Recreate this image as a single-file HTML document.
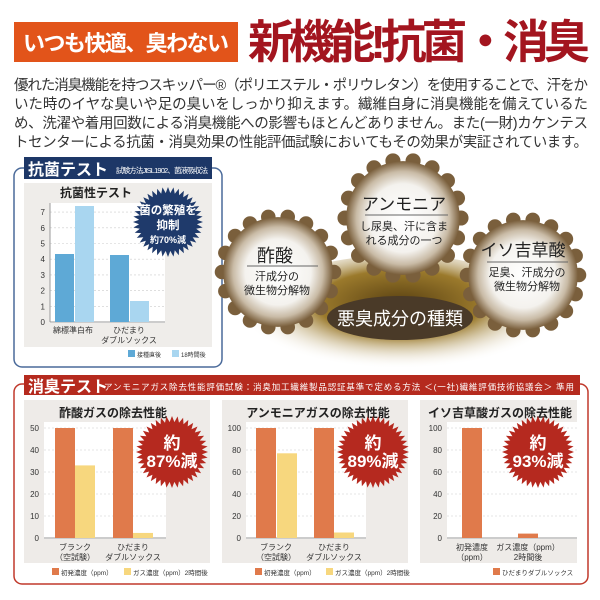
<!DOCTYPE html>
<html><head><meta charset="utf-8">
<style>
html,body{margin:0;padding:0;background:#fff;}
svg{display:block;font-family:"Liberation Sans","Noto Sans CJK JP",sans-serif;}
</style></head>
<body>
<svg id="s" width="600" height="600" viewBox="0 0 600 600" xmlns="http://www.w3.org/2000/svg">
<defs>
<radialGradient id="gw" cx="50%" cy="50%" r="50%">
<stop offset="0" stop-color="#fff"/><stop offset="0.6" stop-color="#f4f2ee"/><stop offset="0.82" stop-color="#c9bba6"/><stop offset="1" stop-color="#7a5f3c"/>
</radialGradient>
<radialGradient id="gb" cx="50%" cy="40%" r="55%">
<stop offset="0" stop-color="#5a4112"/><stop offset="0.5" stop-color="#9b7a2c"/><stop offset="1" stop-color="#fff" stop-opacity="0"/>
</radialGradient>
</defs>
<rect x="14" y="22" width="224" height="40" fill="#e2541a"/>
<text x="126" y="51" font-size="22" fill="#fff" text-anchor="middle" font-weight="bold" textLength="206">いつも快適、臭わない</text>
<text x="248" y="58" font-size="46" fill="#a3151f" font-weight="bold" textLength="342">新機能!抗菌・消臭</text>
<g font-size="14.5" fill="#333">
<text x="14" y="90" textLength="574">優れた消臭機能を持つスキッパー®（ポリエステル・ポリウレタン）を使用することで、汗をか</text>
<text x="14" y="109" textLength="574">いた時のイヤな臭いや足の臭いをしっかり抑えます。繊維自身に消臭機能を備えているた</text>
<text x="14" y="128" textLength="574">め、洗濯や着用回数による消臭機能への影響もほとんどありません。また(一財)カケンテス</text>
<text x="14" y="147" textLength="574">トセンターによる抗菌・消臭効果の性能評価試験においてもその効果が実証されています。</text>
</g>
<rect x="14" y="168" width="208" height="199" rx="8" fill="#fff" stroke="#4a6a9a" stroke-width="1.5"/>
<rect x="24" y="157" width="188" height="22" fill="#1d3767"/>
<text x="28" y="175" font-size="16" fill="#fff" font-weight="bold">抗菌テスト</text>
<text x="116" y="173" font-size="7.5" fill="#fff" textLength="92">試験方法JISL1902、菌液吸収法</text>
<rect x="24" y="183" width="188" height="164" fill="#efedea"/>
<text x="96" y="197" font-size="12" font-weight="bold" fill="#222" text-anchor="middle">抗菌性テスト</text>
<rect x="50" y="203" width="115" height="120" fill="#fff"/>
<g id="abgrid" stroke="#ccc" stroke-dasharray="2,2" stroke-width="0.6"></g>
<g font-size="8" fill="#333" text-anchor="end" id="abt"></g>
<line x1="50" y1="203" x2="50" y2="322" stroke="#999"/>
<line x1="50" y1="322" x2="165" y2="322" stroke="#999"/>
<rect x="55" y="254" width="19" height="68" fill="#5ea9d6"/>
<rect x="75" y="206" width="19" height="116" fill="#a9d6f0"/>
<rect x="110" y="255" width="19" height="67" fill="#5ea9d6"/>
<rect x="130" y="301" width="19" height="21" fill="#a9d6f0"/>
<g font-size="8" fill="#333" text-anchor="middle">
<text x="73" y="333">綿標準白布</text>
<text x="129" y="333">ひだまり</text>
<text x="129" y="343">ダブルソックス</text>
</g>
<rect x="128" y="350" width="7" height="7" fill="#5ea9d6"/>
<text x="137" y="357" font-size="6" fill="#333">接種直後</text>
<rect x="172" y="350" width="7" height="7" fill="#a9d6f0"/>
<text x="181" y="357" font-size="6" fill="#333">18時間後</text>
<polygon id="sb1" fill="#1f3a6b"/>
<g fill="#fff" text-anchor="middle" font-weight="bold">
<text x="168" y="214" font-size="11.5">菌の繁殖を</text>
<text x="168" y="229" font-size="11.5">抑制</text>
<text x="168" y="243" font-size="9">約70%減</text>
</g>
<ellipse cx="400" cy="315" rx="150" ry="60" fill="url(#gb)"/>
<g id="gears"></g>
<ellipse cx="400" cy="318" rx="73" ry="22" fill="#4a3a28"/>
<text x="400" y="325" font-size="18" fill="#fff" text-anchor="middle">悪臭成分の種類</text>
<g text-anchor="middle" fill="#222">
<text x="275" y="262" font-size="18">酢酸</text>
<line x1="247" y1="266" x2="318" y2="266" stroke="#666"/>
<text x="277" y="280" font-size="11">汗成分の</text>
<text x="277" y="294" font-size="11">微生物分解物</text>
<text x="404" y="210" font-size="17">アンモニア</text>
<line x1="365" y1="215" x2="448" y2="215" stroke="#666"/>
<text x="404" y="230" font-size="11">し尿臭、汗に含ま</text>
<text x="404" y="244" font-size="11">れる成分の一つ</text>
<text x="523" y="256" font-size="17">イソ吉草酸</text>
<line x1="487" y1="262" x2="568" y2="262" stroke="#666"/>
<text x="527" y="276" font-size="11">足臭、汗成分の</text>
<text x="527" y="290" font-size="11">微生物分解物</text>
</g>
<rect x="14" y="384" width="574" height="200" rx="8" fill="#fff" stroke="#c0392b" stroke-width="1.5"/>
<rect x="24" y="375" width="556" height="20" fill="#b52a1e"/>
<text x="28" y="392" font-size="16" fill="#fff" font-weight="bold">消臭テスト</text>
<text x="104" y="390" font-size="8.5" fill="#fff" textLength="470">アンモニアガス除去性能評価試験：消臭加工繊維製品認証基準で定める方法 ＜(一社)繊維評価技術協議会＞ 準用</text>
<g id="panels"></g>
<g font-size="12" font-weight="bold" fill="#222" text-anchor="middle">
<text x="113" y="417">酢酸ガスの除去性能</text>
<text x="318" y="417">アンモニアガスの除去性能</text>
<text x="500" y="417">イソ吉草酸ガスの除去性能</text>
</g>
<g font-size="8" fill="#333" text-anchor="middle">
<text x="75" y="550">ブランク</text><text x="75" y="560">（空試験）</text>
<text x="133" y="550">ひだまり</text><text x="133" y="560">ダブルソックス</text>
<text x="276" y="550">ブランク</text><text x="276" y="560">（空試験）</text>
<text x="334" y="550">ひだまり</text><text x="334" y="560">ダブルソックス</text>
<text x="472" y="550">初発濃度</text><text x="472" y="560">（ppm）</text>
<text x="528" y="550">ガス濃度（ppm）</text><text x="528" y="560">2時間後</text>
</g>
<g font-size="6.5" fill="#333">
<rect x="52" y="568" width="7" height="7" fill="#e07a4b"/><text x="61" y="575">初発濃度（ppm）</text>
<rect x="124" y="568" width="7" height="7" fill="#f7d77e"/><text x="133" y="575">ガス濃度（ppm）2時間後</text>
<rect x="255" y="568" width="7" height="7" fill="#e07a4b"/><text x="264" y="575">初発濃度（ppm）</text>
<rect x="326" y="568" width="7" height="7" fill="#f7d77e"/><text x="335" y="575">ガス濃度（ppm）2時間後</text>
<rect x="493" y="568" width="7" height="7" fill="#e07a4b"/><text x="502" y="575">ひだまりダブルソックス</text>
</g>
<g id="stars"></g>
<g fill="#fff" text-anchor="middle" font-size="17" font-weight="bold">
<text x="172" y="449">約</text><text x="172" y="467">87%減</text>
<text x="373" y="449">約</text><text x="373" y="467">89%減</text>
<text x="538" y="449">約</text><text x="538" y="467">93%減</text>
</g>
</svg>
<script>
var NS="http://www.w3.org/2000/svg";
function el(p,t,a){var e=document.createElementNS(NS,t);for(var k in a)e.setAttribute(k,a[k]);(typeof p=="string"?document.getElementById(p):p).appendChild(e);return e;}
function star(cx,cy,r1,r2,n){var p=[];for(var i=0;i<n*2;i++){var r=i%2?r2:r1,a=Math.PI*i/n;p.push((cx+r*Math.cos(a)).toFixed(1)+","+(cy+r*Math.sin(a)).toFixed(1));}return p.join(" ");}
document.getElementById("sb1").setAttribute("points",star(168,222,35,29,40));
for(var i=0;i<=7;i++){var y=322-i*15.7;if(i>0)el("abgrid","line",{x1:50,y1:y,x2:165,y2:y});var t=el("abt","text",{x:45,y:y+3});t.textContent=i;}
function gear(cx,cy,r){var g=el("gears","g",{});var n=18;for(var i=0;i<n;i++){var a=2*Math.PI*i/n;el(g,"circle",{cx:cx+r*Math.cos(a),cy:cy+r*Math.sin(a),r:r*0.13,fill:"#7a5f3c"});}
el(g,"circle",{cx:cx,cy:cy,r:r*0.98,fill:"url(#gw)"});}
gear(278,272,56);gear(403,218,58);gear(523,275,56);
function panel(x,w,px,pw,max,step,bars){el("panels","rect",{x:x,y:400,width:w,height:163,fill:"#eeebe8"});
el("panels","rect",{x:px,y:422,width:pw,height:117,fill:"#fff"});
for(var v=0;v<=max;v+=step){var y=538-v/max*110;if(v>0)el("panels","line",{x1:px,y1:y,x2:px+pw,y2:y,stroke:"#ccc","stroke-dasharray":"2,2","stroke-width":0.6});
var t=el("panels","text",{x:px-5,y:y+3,"font-size":8,fill:"#333","text-anchor":"end"});t.textContent=v;}
el("panels","line",{x1:px,y1:538,x2:px+pw,y2:538,stroke:"#999"});
bars.forEach(function(b){var h=b[1]/max*110;el("panels","rect",{x:b[0],y:538-h,width:20,height:h,fill:b[2]});});}
var O="#e07a4b",Y="#f7d77e";
panel(24,186,44,122,50,10,[[55,50,O],[75,33,Y],[113,50,O],[133,2.3,Y]]);
panel(222,186,246,120,100,20,[[256,100,O],[277,77,Y],[314,100,O],[334,5,Y]]);
panel(420,157,447,130,100,20,[[462,100,O],[518,4,O]]);
[[172,452],[373,452],[538,452]].forEach(function(c){el("stars","polygon",{points:star(c[0],c[1],36,30,40),fill:"#b5291f"});});
</script>
</body></html>
